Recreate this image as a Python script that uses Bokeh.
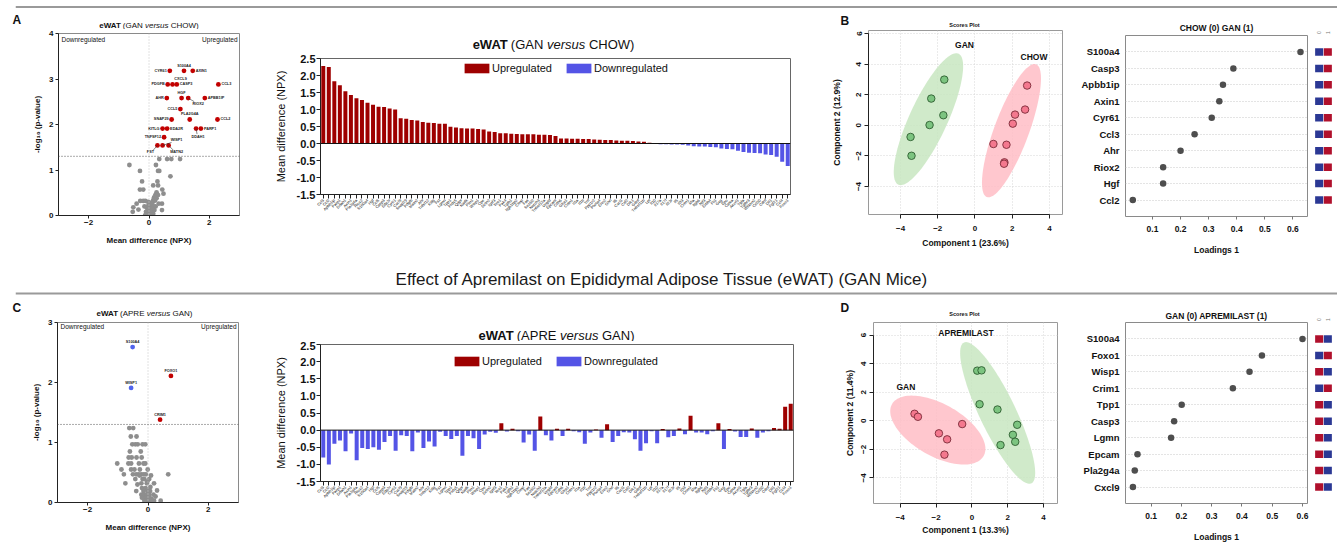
import math
import numpy as np
from bokeh.plotting import figure
from bokeh.models import (ColumnDataSource, Label, Span, FixedTicker, Range1d, FactorRange,
                          Legend, LegendItem, NumeralTickFormatter)
from bokeh.layouts import row, column
from bokeh.embed import file_html
from bokeh.resources import INLINE
from bokeh.core.properties import value

FONT = "Liberation Sans"

# ---------------------------------------------------------------- data
genes = ["Ccl3", "Ccl2", "Apbb1ip", "Parp1", "Ddah1", "Axin1", "Pla2g4a", "Riox2", "S100a4", "Hgf",
         "Ccl5", "Casp3", "Eda2r", "Cyr61", "Cxcl9", "Snap29", "Pdgfb", "Matn2", "Ahr", "Tnfsf12",
         "Kitlg", "Fst", "Lgmn", "Tpp1", "Prdx5", "Qdpr", "Nadk", "Plin1", "Wisp1", "Cpe",
         "Dctn2", "Igsf3", "Yes1", "Pak4", "Tgfb1", "Itgb1bp2", "Clmp", "Fas", "Sez6l2", "Notch3",
         "Tnfrsf12a", "Vegfd", "Epcam", "Cdh6", "Gfra1", "Cntn1", "Il1a", "Il1b", "Tnf", "Ppp1r2",
         "Plxna4", "Eno2", "Ghrl", "Il6", "Cxcl1", "Csf2", "Dlk1", "Gdnf", "Tnfrsf11b", "Lpl",
         "Il10", "Il17a", "Il17f", "Il23r", "Il5", "Il33", "Crim1", "Mia", "Itgb6", "Ntf3",
         "Erbb4", "Fli1", "Gcg", "Epo", "Calca", "Acvrl1", "Tgfa", "Tgfbr3", "Wfikkn2", "Ccl20",
         "Cdnf", "Dll1", "Fgf21", "Ccl4", "Foxo1"]

gan_vs_chow = [2.28, 2.25, 1.83, 1.71, 1.54, 1.43, 1.33, 1.28, 1.20, 1.14,
               1.08, 1.07, 1.03, 1.00, 0.74, 0.73, 0.69, 0.68, 0.63, 0.61,
               0.60, 0.58, 0.58, 0.49, 0.47, 0.45, 0.44, 0.44, 0.43, 0.41,
               0.35, 0.34, 0.30, 0.30, 0.29, 0.28, 0.27, 0.27, 0.27, 0.26,
               0.26, 0.25, 0.22, 0.15, 0.15, 0.14, 0.14, 0.13, 0.13, 0.12,
               0.11, 0.10, 0.10, 0.09, 0.08, 0.08, 0.07, 0.06, 0.05, 0.02,
               0.01, -0.02, -0.02, -0.03, -0.03, -0.04, -0.06, -0.08, -0.09, -0.09,
               -0.10, -0.11, -0.15, -0.16, -0.17, -0.21, -0.25, -0.27, -0.28, -0.29,
               -0.32, -0.34, -0.39, -0.54, -0.66]

apre_vs_gan = [-0.80, -1.00, -0.40, -0.30, -0.62, -0.10, -0.88, -0.52, -0.55, -0.50,
               -0.57, -0.35, -0.17, -0.60, -0.15, -0.17, -0.62, -0.07, -0.52, -0.33,
               -0.48, -0.05, -0.17, -0.26, -0.17, -0.75, -0.17, -0.24, -0.55, -0.13,
               -0.05, -0.08, 0.20, -0.04, 0.04, -0.03, -0.36, -0.13, -0.60, 0.40,
               -0.15, -0.30, 0.04, -0.17, 0.04, -0.03, -0.06, -0.40, -0.07, 0.02,
               -0.22, 0.17, -0.35, -0.17, -0.06, -0.07, -0.27, -0.60, -0.38, -0.03,
               -0.38, 0.03, -0.21, -0.17, 0.05, -0.12, 0.42, -0.07, -0.07, -0.12,
               -0.03, 0.20, -0.55, 0.03, -0.04, -0.20, -0.20, 0.05, -0.22, -0.07,
               -0.03, 0.06, 0.04, 0.68, 0.77]

# volcano A (GAN vs CHOW)
volA_sig_names = ["S100A4", "AXIN1", "CYR61", "PDGFB", "CXCL9", "CASP3", "CCL3", "AHR", "HGF", "RIOX2",
                  "APBB1IP", "CCL5", "SNAP29", "PLA2G4A", "CCL2", "KITLG", "EDA2R", "DDAH1", "PARP1",
                  "TNFSF12", "FST", "WISP1", "MATN2"]
volA_sig_x = [1.16, 1.45, 0.69, 0.62, 0.78, 0.92, 2.30, 0.59, 1.08, 1.30,
              1.85, 1.04, 0.75, 1.35, 2.27, 0.45, 0.60, 1.56, 1.72,
              0.50, 0.28, 0.45, 0.65]
volA_sig_y = [3.18, 3.18, 3.18, 2.88, 2.88, 2.88, 2.88, 2.58, 2.58, 2.58,
              2.58, 2.34, 2.11, 2.11, 2.11, 1.91, 1.91, 1.91, 1.91,
              1.72, 1.54, 1.54, 1.54]
volA_ns_x = [-0.65, -0.30, -0.23, -0.30, -0.19, -0.29, -0.19, -0.12, -0.41, -0.52, -0.35, -0.54,
             0.34, 0.60, 0.74, 1.03, 0.23, 0.30, 0.34, 0.71, 0.28, 0.14, 0.30, 0.44, 0.25, 0.48,
             0.21, 0.30, 0.43, 0.32, 0.43,
             -0.08, -0.02, 0.03, 0.09, 0.12, 0.14, 0.17, 0.20, 0.01, 0.05, 0.11, -0.08, -0.13, -0.04,
             0.14, 0.09, -0.01, 0.00, -0.05, 0.06, 0.18, 0.16, -0.10, 0.02, 0.07, 0.22, -0.03, 0.10,
             0.25, -0.15, 0.12]
volA_ns_y = [1.11, 0.98, 0.75, 0.57, 0.57, 0.32, 0.32, 0.32, 0.26, 0.18, 0.13, 0.08,
             1.24, 1.24, 1.24, 1.24, 1.11, 0.98, 0.98, 0.86, 0.75, 0.66, 0.66, 0.57, 0.51, 0.48,
             0.45, 0.45, 0.26, 0.26, 0.12,
             0.18, 0.15, 0.17, 0.22, 0.29, 0.34, 0.40, 0.33, 0.07, 0.04, 0.09, 0.04, 0.00, 0.00,
             0.04, 0.13, 0.24, 0.10, 0.12, 0.00, 0.12, 0.20, 0.08, 0.02, 0.28, 0.20, 0.30, 0.05,
             0.38, 0.20, 0.15]

# volcano C (APRE vs GAN)
volC_sig_names = ["S100A4", "WISP1", "FOXO1", "CRIM1"]
volC_sig_x = [-0.51, -0.56, 0.76, 0.40]
volC_sig_y = [2.59, 1.91, 2.11, 1.38]
volC_ns_x = [-0.62, -0.49, -0.57, -0.38, -0.52, -0.42, -0.34, -0.18, -0.09,
             -0.60, -0.24, -0.64, -0.54, -0.38, -0.21, -0.65, -0.56, -0.30, -0.15, -0.09,
             -1.02, -0.88, -0.80, -0.75, -0.56, -0.27, -0.01,
             -0.50, -0.39, -0.31, -0.22, -0.14, -0.07, 0.67,
             -0.42, -0.18, -0.12, 0.04, 0.20, -0.22, -0.04,
             -0.39, -0.20, -0.08, -0.15, -0.02, 0.07,
             -0.22, -0.13, -0.04, 0.04, 0.18,
             -0.15, -0.07, 0.02, -0.09, 0.00, 0.09, -0.04, 0.20, 0.42, 0.04,
             -0.05, 0.05, 0.12, -0.12, 0.00, 0.08, -0.28, -0.45, 0.15, -0.20, 0.25, -0.02, 0.10, -0.35, 0.30]
volC_ns_y = [1.24, 1.24, 1.10, 1.10, 0.97, 0.97, 0.97, 0.97, 0.97,
             0.85, 0.85, 0.75, 0.75, 0.75, 0.75, 0.65, 0.65, 0.65, 0.65, 0.65,
             0.65, 0.55, 0.47, 0.32, 0.55, 0.55, 0.55,
             0.47, 0.47, 0.47, 0.47, 0.47, 0.47, 0.47,
             0.39, 0.39, 0.39, 0.39, 0.32, 0.32, 0.32,
             0.19, 0.24, 0.24, 0.19, 0.19, 0.19,
             0.13, 0.13, 0.13, 0.13, 0.13,
             0.08, 0.08, 0.08, 0.04, 0.04, 0.04, 0.01, 0.03, 0.03, 0.01,
             0.06, 0.08, 0.06, 0.03, 0.22, 0.26, 0.45, 0.55, 0.00, 0.08, 0.10, 0.35, 0.45, 0.30, 0.20]

# scores B (GAN vs CHOW), component 1 / 2
scB_gan_x = [-1.65, -2.35, -1.70, -2.44, -3.46, -3.41]
scB_gan_y = [2.99, 1.75, 0.66, 0.02, -0.76, -1.99]
scB_chow_x = [2.80, 2.69, 2.15, 2.03, 0.99, 1.69, 1.58, 1.56]
scB_chow_y = [2.60, 1.03, 0.70, 0.11, -1.22, -1.27, -2.42, -2.51]
# ellipse: centre x, centre y, semi-major, semi-minor, angle (deg)
ellB_gan = [-2.50, 0.40, 4.58, 1.05, 69.8]
ellB_chow = [1.96, -0.35, 4.54, 0.95, 73.4]

# scores D (APREMILAST vs GAN)
scD_gan_x = [-3.20, -3.01, -1.84, -1.38, -1.53, -0.54]
scD_gan_y = [0.49, 0.28, -0.88, -1.30, -2.37, -0.23]
scD_apre_x = [0.30, 0.54, 0.43, 1.43, 2.53, 2.29, 2.42, 1.60]
scD_apre_y = [3.51, 3.53, 1.16, 0.79, -0.28, -0.98, -1.47, -1.70]
ellD_gan = [-1.90, -0.65, 3.16, 1.70, -40.0]
ellD_apre = [1.44, 0.55, 5.28, 1.05, -69.5]

# loadings
loadB_genes = ["S100a4", "Casp3", "Apbb1ip", "Axin1", "Cyr61", "Ccl3", "Ahr", "Riox2", "Hgf", "Ccl2"]
loadB_vals = [0.627, 0.388, 0.351, 0.338, 0.311, 0.250, 0.200, 0.138, 0.138, 0.030]
loadB_g0 = ["Low"] * 10     # CHOW
loadB_g1 = ["High"] * 10    # GAN

loadD_genes = ["S100a4", "Foxo1", "Wisp1", "Crim1", "Tpp1", "Casp3", "Lgmn", "Epcam", "Pla2g4a", "Cxcl9"]
loadD_vals = [0.600, 0.466, 0.425, 0.370, 0.201, 0.176, 0.166, 0.055, 0.046, 0.040]
loadD_g0 = ["High", "Low", "High", "Low", "High", "High", "High", "High", "High", "High"]   # GAN
loadD_g1 = ["Low", "High", "Low", "High", "Low", "Low", "Low", "Low", "Low", "Low"]        # APREMILAST

# ---------------------------------------------------------------- styles
RED_PT = "#C20000"
BLUE_PT = "#5065EE"
GRAY_PT = "#8E8E8E"
RED_BAR = "#9E0000"
BLUE_BAR = "#5454E6"
HIGH_SQ = "#B0102C"
LOW_SQ = "#2B3894"
GREEN_PT, GREEN_LN, GREEN_EL = "#7CC480", "#2E5E30", "#C8E6C1"
PINK_PT, PINK_LN, PINK_EL = "#F4788E", "#7A2A38", "#FFBDC6"
TXT = "#111111"

W_REG = {" ": 278, "(": 333, ")": 333, "A": 667, "C": 722, "E": 667, "G": 778, "H": 722, "N": 722,
         "O": 778, "P": 667, "R": 722, "S": 667, "T": 611, "W": 944, "e": 556, "r": 333, "s": 500,
         "u": 556, "v": 500}
W_BOLD = {"e": 556, "W": 944, "A": 722, "T": 611}


def tw(s, size, style):
    tbl = W_BOLD if style == "bold" else W_REG
    f = 0.94 if style == "bold" else 1.0
    return f * sum(tbl.get(c, 556) for c in s) * size / 1000.0


def add_label(p, x, y, text, size, style="normal", align="left", baseline="middle",
              color=TXT, angle=0.0):
    p.add_layout(Label(x=x, y=y, x_units="screen", y_units="screen", text=text,
                       text_font=FONT, text_font_size=f"{size}px", text_font_style=style,
                       text_align=align, text_baseline=baseline, text_color=color, angle=angle))


def rich_title(p, segs, cx, cy, size):
    sp = W_REG[" "] * size / 1000.0
    widths = [tw(t, size, st) for t, st in segs]
    total = sum(widths) + sp * (len(segs) - 1)
    x = cx - total / 2.0
    for (t, st), w in zip(segs, widths):
        add_label(p, x, cy, t, size, st)
        x += w + sp


def base_fig(w, h, l, r, t, b, xr, yr, axes=True):
    kw = {}
    if not axes:
        kw = dict(x_axis_location=None, y_axis_location=None)
    p = figure(width=w, height=h, x_range=xr, y_range=yr, output_backend="svg",
               toolbar_location=None, title=None, min_border_left=l, min_border_right=r,
               min_border_top=t, min_border_bottom=b, **kw)
    p.frame_align = False
    p.background_fill_color = "white"
    p.border_fill_color = "white"
    p.grid.visible = False
    return p


def header(w, h):
    p = base_fig(w, h, 0, 0, 0, 0, Range1d(0, 1), Range1d(0, 1), axes=False)
    p.outline_line_color = None
    return p


def style_axes(p, tick_size, tick_bold, label_size, label_bold, tick_out=3):
    for ax in p.axis:
        ax.major_label_text_font = FONT
        ax.major_label_text_font_size = f"{tick_size}px"
        ax.major_label_text_font_style = "bold" if tick_bold else "normal"
        ax.major_label_text_color = TXT
        ax.axis_label_text_font = FONT
        ax.axis_label_text_font_size = f"{label_size}px"
        ax.axis_label_text_font_style = "bold" if label_bold else "normal"
        ax.axis_label_text_color = TXT
        ax.major_tick_in = 0
        ax.major_tick_out = tick_out
        ax.minor_tick_line_color = None
        ax.axis_line_color = "#222222"
        ax.major_tick_line_color = "#222222"


def ellipse_xy(params, n=120):
    cx, cy, a, b, ang = params
    t = np.linspace(0, 2 * np.pi, n)
    th = np.radians(ang)
    x = cx + a * np.cos(t) * np.cos(th) - b * np.sin(t) * np.sin(th)
    y = cy + a * np.cos(t) * np.sin(th) + b * np.sin(t) * np.cos(th)
    return x, y


# ---------------------------------------------------------------- volcano
def volcano(w, h, l, r, t, b, fw, fh, ymax, ns_x, ns_y, sig_x, sig_y, sig_names, place, corner_y):
    p = base_fig(w, h, l, r, t, b, Range1d(-3, 3), Range1d(0, ymax))
    p.outline_line_color = "#8A8A8A"
    pxu = fw / 6.0
    pyu = fh / float(ymax)
    p.add_layout(Span(location=0, dimension="height", line_color="#C4C4C4",
                      line_dash="1 2", line_width=1))
    p.add_layout(Span(location=1.301, dimension="width", line_color="#555555",
                      line_dash="1 2", line_width=1))
    p.scatter(ns_x, ns_y, size=4.8, fill_color=GRAY_PT, line_color=None)
    cols = [RED_PT if x > 0 else BLUE_PT for x in sig_x]
    p.scatter(sig_x, sig_y, size=4.8, fill_color=cols, line_color=None)
    for align in ("left", "right", "center"):
        xs, ys, tx = [], [], []
        for nm, x, y in zip(sig_names, sig_x, sig_y):
            dx, dy, al, lead = place[nm]
            if al != align:
                continue
            xs.append(x + dx / pxu)
            ys.append(y - dy / pyu)
            tx.append(nm)
        if tx:
            p.text(xs, ys, text=tx, text_font=value(FONT), text_font_size="3.8px",
                   text_font_style="bold", text_align=align, text_baseline="middle",
                   text_color="#222222")
    x0, y0, x1, y1 = [], [], [], []
    for nm, x, y in zip(sig_names, sig_x, sig_y):
        lead = place[nm][3]
        if lead:
            x0.append(x); y0.append(y)
            x1.append(x + lead[0] / pxu); y1.append(y - lead[1] / pyu)
    if x0:
        p.segment(x0, y0, x1, y1, line_color="#333333", line_width=0.6)
    p.xaxis.ticker = FixedTicker(ticks=[-2, 0, 2])
    p.yaxis.ticker = FixedTicker(ticks=list(range(ymax + 1)))
    style_axes(p, 8, True, 8, True, tick_out=3)
    p.xaxis.axis_label = "Mean difference (NPX)"
    p.yaxis.axis_label = "-log\u2081\u2080 (p-value)"
    p.xaxis.major_label_standoff = 1
    p.xaxis.axis_label_standoff = 8
    p.yaxis.major_label_standoff = 2
    p.yaxis.axis_label_standoff = 4
    add_label(p, 3, corner_y, "Downregulated", 6.5)
    add_label(p, fw - 2, corner_y, "Upregulated", 6.5, align="right")
    return p


placeA = {
    "S100A4": (0, -5, "center", None), "AXIN1": (3, 0, "left", None),
    "CYR61": (-3, 0, "right", None), "PDGFB": (-3, 0, "right", None),
    "CXCL9": (8, -5, "center", None), "CASP3": (3, 0, "left", None),
    "CCL3": (3, 0, "left", None), "AHR": (-3, 0, "right", None),
    "HGF": (0, -5, "center", None), "RIOX2": (10, 6, "center", (6, 3.5)),
    "APBB1IP": (3, 0, "left", None), "CCL5": (-3, 0, "right", None),
    "SNAP29": (-3, 0, "right", None), "PLA2G4A": (0, -5, "center", None),
    "CCL2": (3, 0, "left", None), "KITLG": (-3, 0, "right", None),
    "EDA2R": (3, 0, "left", None), "DDAH1": (2, 8, "center", (1, 5.5)),
    "PARP1": (3, 0, "left", None), "TNFSF12": (-3, 0, "right", None),
    "FST": (-7, 7, "center", (-4, 4.5)), "WISP1": (14, -5, "center", (9, -3)),
    "MATN2": (8, 7, "center", (4.5, 4.5)),
}
placeC = {"S100A4": (0, -5, "center", None), "WISP1": (0, -5, "center", None),
          "FOXO1": (0, -5, "center", None), "CRIM1": (0, -5, "center", None)}

SEG_GC = [("eWAT", "bold"), ("(GAN", "normal"), ("versus", "italic"), ("CHOW)", "normal")]
SEG_AG = [("eWAT", "bold"), ("(APRE", "normal"), ("versus", "italic"), ("GAN)", "normal")]

# ---- panel A volcano (page y 12..262)
hA1 = header(262, 17)
add_label(hA1, 12, 10, "A", 12, "bold")
rich_title(hA1, SEG_GC, 148.5, 4, 8)
figA1 = volcano(262, 233, 58, 23, 4, 47, 181, 182, 4, volA_ns_x, volA_ns_y,
                volA_sig_x, volA_sig_y, volA_sig_names, placeA, 176)

# ---- panel C volcano (page y 296..545)
hC1 = header(262, 22)
add_label(hC1, 12, 11, "C", 12, "bold")
rich_title(hC1, SEG_AG, 144, 5, 8)
figC1 = volcano(262, 227, 57, 24, 4, 43, 181, 180, 3, volC_ns_x, volC_ns_y,
                volC_sig_x, volC_sig_y, volC_sig_names, placeC, 176)


# ---------------------------------------------------------------- bar charts
def bars(w, h, l, r, t, b, vals, legend_xy, spacing):
    p = base_fig(w, h, l, r, t, b, FactorRange(factors=genes, factor_padding=0, range_padding=0),
                 Range1d(-1.5, 2.5))
    p.outline_line_color = "#666666"
    up = [(g, v) for g, v in zip(genes, vals) if v >= 0]
    dn = [(g, v) for g, v in zip(genes, vals) if v < 0]
    s_up = ColumnDataSource(dict(x=[g for g, _ in up], top=[v for _, v in up]))
    s_dn = ColumnDataSource(dict(x=[g for g, _ in dn], top=[v for _, v in dn]))
    r_up = p.vbar(x="x", top="top", bottom=0, width=0.72, source=s_up,
                  fill_color=RED_BAR, line_color=None)
    r_dn = p.vbar(x="x", top="top", bottom=0, width=0.72, source=s_dn,
                  fill_color=BLUE_BAR, line_color=None)
    p.add_layout(Span(location=0, dimension="width", line_color="#111111", line_width=1))
    p.yaxis.ticker = FixedTicker(ticks=[-1.5, -1.0, -0.5, 0.0, 0.5, 1.0, 1.5, 2.0, 2.5])
    p.yaxis.formatter = NumeralTickFormatter(format="0.0")
    style_axes(p, 11, True, 11, False, tick_out=4)
    p.xaxis.major_label_text_font_size = "4px"
    p.xaxis.major_label_text_font_style = "normal"
    p.xaxis.major_label_orientation = math.pi / 4
    p.xaxis.major_label_standoff = 1
    p.yaxis.major_label_standoff = 1
    p.yaxis.axis_label = "Mean difference (NPX)"
    p.yaxis.axis_label_standoff = 7
    leg = Legend(items=[LegendItem(label="Upregulated", renderers=[r_up]),
                        LegendItem(label="Downregulated", renderers=[r_dn])],
                 location=legend_xy, orientation="horizontal", padding=0, margin=0,
                 spacing=spacing, label_standoff=0, glyph_width=31, glyph_height=12,
                 label_height=12, label_text_font=FONT, label_text_font_size="11px",
                 label_text_color=TXT, border_line_color=None, background_fill_alpha=0)
    p.add_layout(leg)
    return p


hA2 = header(543, 40)
rich_title(hA2, SEG_GC, 291, 8, 13)
figA2 = bars(543, 210, 58, 15, 6, 68, gan_vs_chow, (141, 120), 11)

hC2 = header(543, 45)
rich_title(hC2, SEG_AG, 294, 6.5, 13)
figC2 = bars(543, 204, 58, 12, 3, 64, apre_vs_gan, (131, 114), 11)


# ---------------------------------------------------------------- scores plots
def scores(w, h, l, r, t, b, xr, yr, groups, names_xy, xlabel, ylabel,
           y_lab_standoff, x_tick_standoff, x_lab_standoff):
    p = base_fig(w, h, l, r, t, b, Range1d(*xr), Range1d(*yr))
    p.outline_line_color = "#9A9A9A"
    p.grid.visible = True
    p.grid.grid_line_color = "#D6D6D6"
    p.grid.grid_line_dash = "1 2"
    p.xaxis.ticker = FixedTicker(ticks=[-4, -2, 0, 2, 4])
    p.yaxis.ticker = FixedTicker(ticks=[-4, -2, 0, 2, 4, 6])
    for gx, gy, ell, fc, lc, ec in groups:
        ex, ey = ellipse_xy(ell)
        p.patch(ex, ey, fill_color=ec, fill_alpha=0.85, line_color=None)
    for gx, gy, ell, fc, lc, ec in groups:
        p.scatter(gx, gy, size=7.5, fill_color=fc, line_color=lc, line_width=0.9)
    nx, ny, nt = names_xy
    p.text(nx, ny, text=nt, text_font=value(FONT), text_font_size="8.5px", text_font_style="bold",
           text_align="center", text_baseline="middle", text_color=TXT)
    style_axes(p, 8, True, 8.5, True, tick_out=4)
    p.xaxis.bounds = (-4, 4)
    p.yaxis.bounds = (-4, 6)
    p.yaxis.major_label_orientation = "vertical"
    p.xaxis.axis_label = xlabel
    p.yaxis.axis_label = ylabel
    p.xaxis.major_label_standoff = x_tick_standoff
    p.xaxis.axis_label_standoff = x_lab_standoff
    p.yaxis.major_label_standoff = 3
    p.yaxis.axis_label_standoff = y_lab_standoff
    return p


hB1 = header(265, 16)
add_label(hB1, 35, 8, "B", 12, "bold")
add_label(hB1, 159, 4, "Scores Plot", 5.5, "bold", align="center")
figB1 = scores(265, 234, 63, 8, 2, 48, (-5.72, 4.70), (-5.83, 6.20),
               [(scB_gan_x, scB_gan_y, ellB_gan, GREEN_PT, GREEN_LN, GREEN_EL),
                (scB_chow_x, scB_chow_y, ellB_chow, PINK_PT, PINK_LN, PINK_EL)],
               ([-0.56, 3.17], [5.22, 4.48], ["GAN", "CHOW"]),
               "Component 1 (23.6%)", "Component 2 (12.9%)", 12, 7, 4)

hD1 = header(265, 23)
add_label(hD1, 35, 12, "D", 12, "bold")
add_label(hD1, 159, 6, "Scores Plot", 5.5, "bold", align="center")
figD1 = scores(265, 226, 68, 13, 3, 42, (-5.49, 4.78), (-5.79, 6.88),
               [(scD_gan_x, scD_gan_y, ellD_gan, PINK_PT, PINK_LN, PINK_EL),
                (scD_apre_x, scD_apre_y, ellD_apre, GREEN_PT, GREEN_LN, GREEN_EL)],
               ([-3.68, -0.33], [2.40, 6.14], ["GAN", "APREMILAST"]),
               "Component 1 (13.3%)", "Component 2 (11.4%)", 4, 7, 2)


# ---------------------------------------------------------------- loadings
def loadings(w, h, l, r, t, b, names, vals, xr):
    yr = FactorRange(factors=list(reversed(names)), range_padding=0.1)
    p = base_fig(w, h, l, r, t, b, Range1d(*xr), yr)
    p.outline_line_color = "#8A8A8A"
    p.ygrid.visible = True
    p.ygrid.grid_line_color = "#C8C8C8"
    p.ygrid.grid_line_dash = "1 2"
    p.scatter(vals, names, size=6.5, fill_color="#4E4E4E", line_color=None)
    p.xaxis.ticker = FixedTicker(ticks=[0.1, 0.2, 0.3, 0.4, 0.5, 0.6])
    p.xaxis.formatter = NumeralTickFormatter(format="0.0")
    style_axes(p, 8.5, True, 8.5, True, tick_out=3)
    p.yaxis.major_label_text_font_size = "9.5px"
    p.yaxis.major_tick_line_color = None
    p.yaxis.axis_line_color = None
    p.yaxis.major_label_standoff = 3
    p.xaxis.axis_line_color = None
    p.xaxis.major_tick_line_color = "#777777"
    p.xaxis.major_label_standoff = 6
    p.xaxis.axis_label = "Loadings 1"
    p.xaxis.axis_label_standoff = 10
    return p, yr


def squares(w, h, t, b, yr, names, g0, g1):
    p = base_fig(w, h, 0, 0, t, b, Range1d(-1, 2), yr, axes=False)
    p.outline_line_color = None
    c0 = [HIGH_SQ if v == "High" else LOW_SQ for v in g0]
    c1 = [HIGH_SQ if v == "High" else LOW_SQ for v in g1]
    p.rect(x=[0] * len(names), y=names, width=0.93, height=7.5, height_units="screen",
           fill_color=c0, line_color=None)
    p.rect(x=[1] * len(names), y=names, width=0.93, height=7.5, height_units="screen",
           fill_color=c1, line_color=None)
    return p


hB2 = header(266, 22)
add_label(hB2, 146, 7, "CHOW (0) GAN (1)", 8.5, "bold", align="center")
add_label(hB2, 248.7, 2, "0", 5, color="#777777", align="center", angle=math.pi / 2)
add_label(hB2, 257.3, 2, "1", 5, color="#777777", align="center", angle=math.pi / 2)
figB2, yrB = loadings(240, 228, 55, 3, 1, 46, loadB_genes, loadB_vals, (0.004, 0.652))
figB3 = squares(26, 228, 1, 46, yrB, loadB_genes, loadB_g0, loadB_g1)

hD2 = header(266, 25)
add_label(hD2, 146, 6, "GAN (0) APREMILAST (1)", 8.5, "bold", align="center")
add_label(hD2, 248.7, 1.8, "0", 5, color="#777777", align="center", angle=math.pi / 2)
add_label(hD2, 257.3, 1.8, "1", 5, color="#777777", align="center", angle=math.pi / 2)
figD2, yrD = loadings(240, 224, 55, 3, 1, 42, loadD_genes, loadD_vals, (0.0154, 0.6165))
figD3 = squares(26, 224, 1, 42, yrD, loadD_genes, loadD_g0, loadD_g1)

# ---------------------------------------------------------------- separators / heading
strip_top = base_fig(1337, 12, 15, 0, 0, 0, Range1d(0, 1), Range1d(0, 12), axes=False)
strip_top.outline_line_color = None
strip_top.add_layout(Span(location=5.5, dimension="width", line_color="#9A9A9A", line_width=2))

strip_mid = base_fig(1337, 34, 15, 0, 0, 0, Range1d(0, 1), Range1d(0, 34), axes=False)
strip_mid.outline_line_color = None
strip_mid.add_layout(Span(location=3, dimension="width", line_color="#9A9A9A", line_width=2))
add_label(strip_mid, 647, 17, "Effect of Apremilast on Epididymal Adipose Tissue (eWAT) (GAN Mice)",
          17, align="center", color="#1A1A1A")

top_row = row(column(hA1, figA1, spacing=0), column(hA2, figA2, spacing=0),
              column(hB1, figB1, spacing=0),
              column(hB2, row(figB2, figB3, spacing=0), spacing=0), spacing=0)
bot_row = row(column(hC1, figC1, spacing=0), column(hC2, figC2, spacing=0),
              column(hD1, figD1, spacing=0),
              column(hD2, row(figD2, figD3, spacing=0), spacing=0), spacing=0)
layout = column(strip_top, top_row, strip_mid, bot_row, spacing=0)

open("out.html", "w").write(file_html(layout, INLINE))
